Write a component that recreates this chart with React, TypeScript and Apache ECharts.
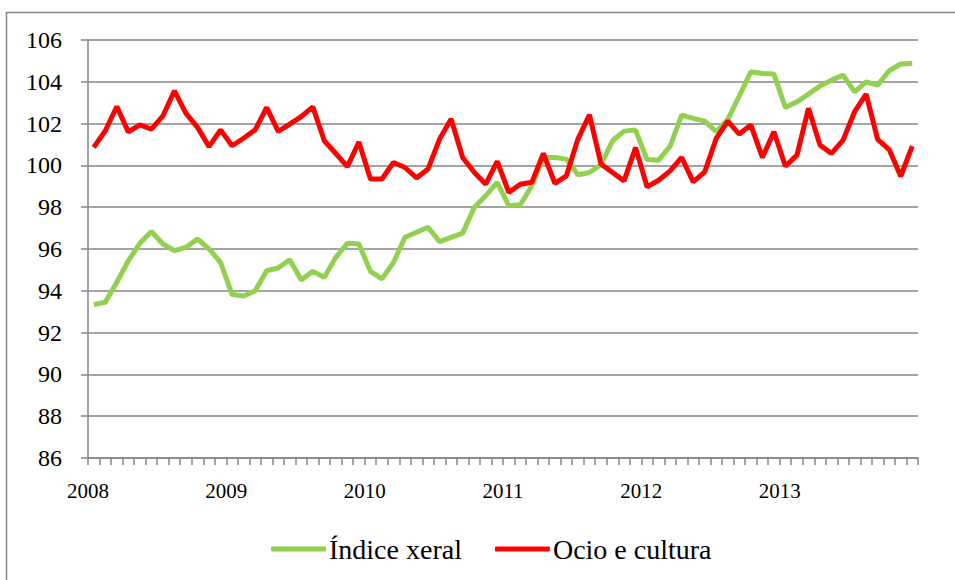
import React, { useEffect, useRef } from "react";
import * as echarts from "echarts";

const years = ["2008", "2009", "2010", "2011", "2012", "2013"];
const months: string[] = [];
years.forEach((y) => {
  for (let m = 1; m <= 12; m++) months.push(`${y}-${String(m).padStart(2, "0")}`);
});

const indiceXeral = [
  93.34, 93.45, 94.41, 95.44, 96.27, 96.84, 96.24, 95.92, 96.08, 96.48, 96.0, 95.36,
  93.82, 93.75, 94.0, 94.96, 95.09, 95.49, 94.52, 94.93, 94.65, 95.6, 96.27, 96.24,
  94.93, 94.57, 95.36, 96.56, 96.8, 97.04, 96.35, 96.56, 96.76, 97.99, 98.55, 99.19,
  98.07, 98.12, 99.03, 100.38, 100.38, 100.3, 99.55, 99.66, 100.03, 101.18, 101.64, 101.69,
  100.28, 100.25, 100.92, 102.41, 102.25, 102.12, 101.61, 102.2, 103.32, 104.48, 104.4, 104.37,
  102.77, 103.04, 103.41, 103.8, 104.08, 104.32, 103.52, 104.0, 103.84, 104.53, 104.85, 104.88,
];

const ocioCultura = [
  100.86, 101.66, 102.82, 101.6, 101.94, 101.74, 102.37, 103.57, 102.49, 101.82, 100.9, 101.7,
  100.94, 101.3, 101.7, 102.77, 101.63, 101.98, 102.33, 102.8, 101.18, 100.57, 99.94, 101.12,
  99.35, 99.35, 100.14, 99.9, 99.4, 99.83, 101.26, 102.22, 100.38, 99.67, 99.1, 100.19,
  98.71, 99.1, 99.19, 100.57, 99.14, 99.5, 101.26, 102.42, 100.07, 99.66, 99.26, 100.85,
  98.97, 99.29, 99.74, 100.38, 99.21, 99.69, 101.29, 102.12, 101.5, 101.93, 100.38, 101.61,
  99.96, 100.49, 102.73, 100.97, 100.57, 101.21, 102.57, 103.41, 101.24, 100.76, 99.48, 100.92,
];

const yMin = 86;
const yMax = 106;
const yStep = 2;

const GRID = "#868686";
const SERIF = "Liberation Serif";

export default function App() {
  const ref = useRef<HTMLDivElement>(null);
  useEffect(() => {
    if (!ref.current) return;
    const chart = echarts.init(ref.current, undefined, { renderer: "svg" });
    const toPts = (arr: number[]) => arr.map((v, i) => [i + 0.5, v]);
    chart.setOption({
      animation: false,
      backgroundColor: "#ffffff",
      textStyle: { fontFamily: SERIF },
      graphic: [
        {
          type: "rect",
          left: 4,
          top: 10,
          shape: { width: 1000, height: 1000 },
          style: { fill: "none", stroke: GRID, lineWidth: 1.5 },
          silent: true,
        },
      ],
      grid: { left: 88, right: 37, top: 40, bottom: 122 },
      legend: {
        top: 530,
        left: 266,
        itemWidth: 55,
        itemHeight: 5,
        itemGap: 33,
        icon: "roundRect",
        textStyle: { fontFamily: SERIF, fontSize: 28, color: "#000", padding: [0, 0, 0, -2] },
        data: ["Índice xeral", "Ocio e cultura"],
      },
      xAxis: {
        type: "value",
        min: 0,
        max: months.length,
        interval: 12,
        axisLine: { show: true, lineStyle: { color: GRID, width: 1.5 } },
        axisTick: { show: true, length: 7, lineStyle: { color: GRID, width: 1.5 } },
        minorTick: { show: true, splitNumber: 12, length: 7, lineStyle: { color: GRID, width: 1.5 } },
        splitLine: { show: false },
        axisLabel: {
          margin: 22,
          fontFamily: SERIF,
          fontSize: 21,
          color: "#000",
          showMaxLabel: false,
          formatter: (v: number) => {
            const idx = Math.round(v / 12);
            return idx < years.length ? years[idx] : "";
          },
        },
      },
      yAxis: {
        type: "value",
        min: yMin,
        max: yMax,
        interval: yStep,
        axisLine: { show: true, lineStyle: { color: GRID, width: 1.5 } },
        axisTick: { show: true, length: 7, lineStyle: { color: GRID, width: 1.5 } },
        splitLine: { show: true, lineStyle: { color: GRID, width: 1.5 } },
        axisLabel: {
          margin: 26,
          fontFamily: SERIF,
          fontSize: 24,
          color: "#000",
        },
      },
      series: [
        {
          name: "Índice xeral",
          type: "line",
          data: toPts(indiceXeral),
          showSymbol: false,
          symbol: "none",
          lineStyle: { color: "#92D050", width: 5 },
          itemStyle: { color: "#92D050" },
        },
        {
          name: "Ocio e cultura",
          type: "line",
          data: toPts(ocioCultura),
          showSymbol: false,
          symbol: "none",
          lineStyle: { color: "#FF0000", width: 5 },
          itemStyle: { color: "#FF0000" },
        },
      ],
    });
    return () => chart.dispose();
  }, []);
  return (
    <div
      ref={ref}
      style={{ position: "absolute", left: 0, top: 0, width: 955, height: 580 }}
    />
  );
}
